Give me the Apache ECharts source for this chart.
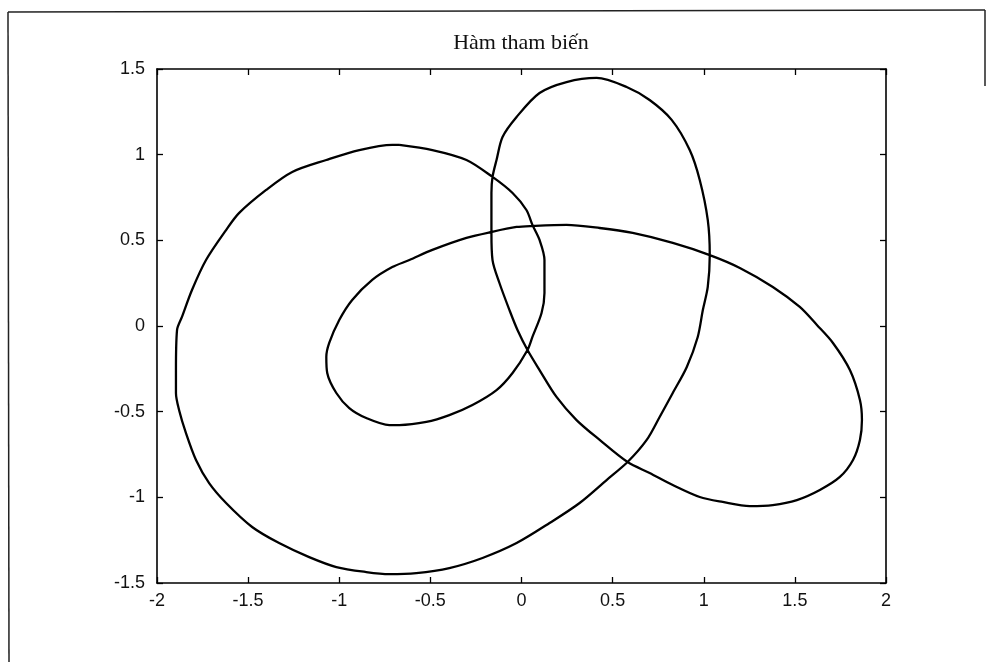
<!DOCTYPE html>
<html>
<head>
<meta charset="utf-8">
<script src="https://cdn.jsdelivr.net/npm/echarts@6/dist/echarts.min.js"></script>
<style>
  html, body { margin: 0; padding: 0; background: #fff; }
  #chart { width: 991px; height: 662px; }
</style>
</head>
<body>
<div id="chart"></div>
<script>
// Title and axis ranges
const titleText = 'Hàm tham biến';
const xRange = [-2, 2];
const yRange = [-1.5, 1.5];
const tickStep = 0.5;

// Traced points of the closed parametric curve, in drawing order
const curveX = [
  -0.670, -0.489, -0.302, -0.159, -0.049, 0.027, 0.060, 0.099, 0.126, 0.126,
  0.110, 0.060, 0.033, -0.049, -0.137, -0.269, -0.396, -0.522, -0.670, -0.725,
  -0.852, -0.945, -1.016, -1.066, -1.071, -1.055, -1.000, -0.929, -0.819, -0.709,
  -0.615, -0.489, -0.302, -0.165, -0.027, 0.060, 0.247, 0.429, 0.610, 0.830,
  1.033, 1.198, 1.379, 1.527, 1.621, 1.709, 1.802, 1.857, 1.868, 1.857,
  1.819, 1.747, 1.637, 1.511, 1.379, 1.253, 1.104, 0.978, 0.830, 0.703,
  0.582, 0.429, 0.302, 0.192, 0.099, 0.033, -0.022, -0.066, -0.121, -0.159,
  -0.165, -0.165, -0.159, -0.137, -0.104, -0.027, 0.099, 0.247, 0.412, 0.577,
  0.703, 0.824, 0.923, 0.978, 1.022, 1.033, 1.022, 0.995, 0.967, 0.907,
  0.830, 0.758, 0.687, 0.582, 0.467, 0.319, 0.154, -0.027, -0.214, -0.396,
  -0.577, -0.725, -0.852, -1.016, -1.165, -1.330, -1.478, -1.621, -1.714, -1.786,
  -1.841, -1.879, -1.896, -1.896, -1.890, -1.863, -1.808, -1.731, -1.621, -1.549,
  -1.401, -1.258, -1.071, -0.890, -0.709, -0.670
];
const curveY = [
  1.057, 1.027, 0.969, 0.870, 0.776, 0.677, 0.590, 0.502, 0.385, 0.193,
  0.076, -0.064, -0.140, -0.274, -0.374, -0.461, -0.520, -0.560, -0.578, -0.578,
  -0.537, -0.479, -0.391, -0.274, -0.181, -0.099, 0.035, 0.152, 0.269, 0.344,
  0.385, 0.444, 0.514, 0.549, 0.578, 0.584, 0.590, 0.572, 0.543, 0.485,
  0.414, 0.339, 0.228, 0.111, 0.006, -0.099, -0.257, -0.432, -0.549, -0.665,
  -0.782, -0.881, -0.957, -1.016, -1.045, -1.051, -1.027, -0.998, -0.928, -0.858,
  -0.794, -0.665, -0.549, -0.414, -0.257, -0.140, -0.023, 0.093, 0.251, 0.385,
  0.543, 0.776, 0.870, 0.969, 1.103, 1.220, 1.360, 1.424, 1.448, 1.395,
  1.319, 1.203, 1.027, 0.852, 0.619, 0.414, 0.228, 0.093, -0.064, -0.239,
  -0.391, -0.531, -0.665, -0.794, -0.899, -1.033, -1.150, -1.267, -1.354, -1.413,
  -1.442, -1.448, -1.436, -1.407, -1.349, -1.267, -1.173, -1.033, -0.917, -0.782,
  -0.625, -0.490, -0.391, -0.257, -0.023, 0.053, 0.210, 0.385, 0.560, 0.660,
  0.794, 0.899, 0.969, 1.027, 1.057, 1.057
];

const points = curveX.map((x, i) => [x, curveY[i]]);

const ink = '#000';
const labelFont = '"Liberation Sans", Arial, sans-serif';

function frameAxis(position, range, showLabels, labelMargin) {
  return {
    type: 'value',
    position: position,
    min: range[0],
    max: range[1],
    interval: tickStep,
    axisLine: { show: true, onZero: false, lineStyle: { color: ink, width: 1.6 } },
    axisTick: { show: true, inside: true, length: 6, lineStyle: { color: ink, width: 1.3 } },
    axisLabel: {
      show: showLabels,
      color: '#111',
      fontFamily: labelFont,
      fontSize: 18,
      margin: labelMargin
    },
    splitLine: { show: false }
  };
}

const chart = echarts.init(document.getElementById('chart'), null, { renderer: 'canvas' });

chart.setOption({
  backgroundColor: '#fff',
  animation: false,
  title: {
    text: titleText,
    left: 516,
    top: 27,
    textAlign: 'center',
    textStyle: {
      fontFamily: '"Liberation Serif", "Times New Roman", serif',
      fontWeight: 'normal',
      fontSize: 22,
      color: '#111'
    }
  },
  grid: { left: 157, right: 105, top: 69, bottom: 79, containLabel: false },
  xAxis: [
    frameAxis('bottom', xRange, true, 9),
    frameAxis('top', xRange, false, 8)
  ],
  yAxis: [
    frameAxis('left', yRange, true, 12),
    frameAxis('right', yRange, false, 8)
  ],
  series: [{
    type: 'line',
    xAxisIndex: 0,
    yAxisIndex: 0,
    data: points,
    showSymbol: false,
    symbol: 'none',
    smooth: 0.3,
    lineStyle: { color: ink, width: 2.3 }
  }],
  graphic: [
    // outer figure frame
    { type: 'line', shape: { x1: 8, y1: 12, x2: 985, y2: 10 }, style: { stroke: '#222', lineWidth: 1.5 } },
    { type: 'line', shape: { x1: 8, y1: 12, x2: 9, y2: 662 }, style: { stroke: '#222', lineWidth: 1.5 } },
    { type: 'line', shape: { x1: 985, y1: 10, x2: 985, y2: 86 }, style: { stroke: '#222', lineWidth: 1.5 } }
  ]
});
</script>
</body>
</html>
